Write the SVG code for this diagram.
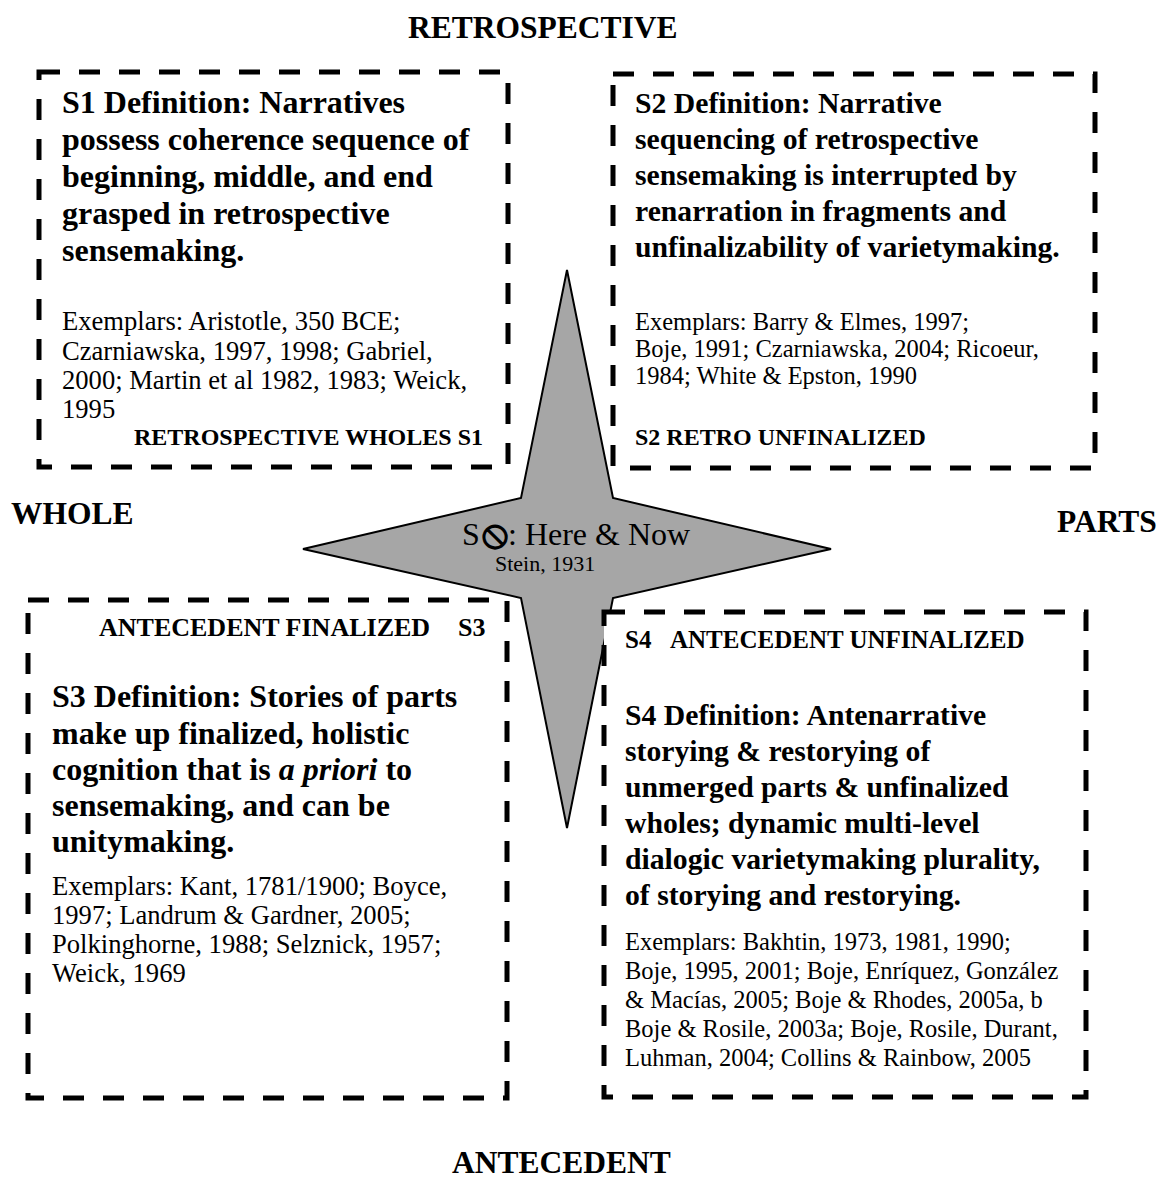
<svg xmlns="http://www.w3.org/2000/svg" width="1161" height="1192" viewBox="0 0 1161 1192">
<style>
text{font-family:"Liberation Serif","Times New Roman",serif;fill:#000}
.axis{font-weight:bold;font-size:31.5px}
.box{fill:#fff;stroke:#000;stroke-width:5;stroke-dasharray:21 19}
.b{font-weight:bold}
.def32{font-weight:bold;font-size:32px}
.def30{font-weight:bold;font-size:29.7px}
.ex26{font-size:26.6px}
.ex24{font-size:24.5px}
</style>
<rect width="1161" height="1192" fill="#fff"/>
<g id="axes">
<text class="axis" x="11" y="524">WHOLE</text>
<text class="axis" x="408" y="38">RETROSPECTIVE</text>
<text class="axis" x="1057" y="532">PARTS</text>
<text class="axis" x="452" y="1173">ANTECEDENT</text>
</g>
<g id="star">
<polygon points="567,270 613,498 831,549 613,598 567,828 521,598 303,549 521,498" fill="#a6a6a6" stroke="#000" stroke-width="2"/>
<text x="462" y="545" font-size="32">S</text>
<text x="495" y="547" font-size="40" font-family="DejaVu Sans" font-weight="bold" text-anchor="middle">⦸</text>
<text x="508" y="545" font-size="32">: Here &amp; Now</text>
<text x="495" y="571" font-size="22">Stein, 1931</text>
</g>
<g id="s1">
<rect class="box" x="39" y="72" width="469" height="395"/>
<text class="def32" x="62"><tspan x="62" y="113">S1 Definition: Narratives</tspan><tspan x="62" y="150">possess coherence sequence of</tspan><tspan x="62" y="187">beginning, middle, and end</tspan><tspan x="62" y="224">grasped in retrospective</tspan><tspan x="62" y="261">sensemaking.</tspan></text>
<text class="ex26"><tspan x="62" y="330">Exemplars: Aristotle, 350 BCE;</tspan><tspan x="62" y="360">Czarniawska, 1997, 1998; Gabriel,</tspan><tspan x="62" y="389">2000; Martin et al 1982, 1983; Weick,</tspan><tspan x="62" y="418">1995</tspan></text>
<text class="b" font-size="24" x="483" y="445" text-anchor="end">RETROSPECTIVE WHOLES S1</text>
</g>
<g id="s2">
<rect class="box" x="613" y="74" width="482" height="394"/>
<text class="def30"><tspan x="635" y="113">S2 Definition: Narrative</tspan><tspan x="635" y="149">sequencing of retrospective</tspan><tspan x="635" y="185">sensemaking is interrupted by</tspan><tspan x="635" y="221">renarration in fragments and</tspan><tspan x="635" y="257">unfinalizability of varietymaking.</tspan></text>
<text class="ex24"><tspan x="635" y="330">Exemplars: Barry &amp; Elmes, 1997;</tspan><tspan x="635" y="357">Boje, 1991; Czarniawska, 2004; Ricoeur,</tspan><tspan x="635" y="384">1984; White &amp; Epston, 1990</tspan></text>
<text class="b" font-size="24" x="635" y="445">S2 RETRO UNFINALIZED</text>
</g>
<g id="s3">
<rect class="box" x="28" y="600" width="479" height="498"/>
<text class="b" font-size="26" y="636"><tspan x="99">ANTECEDENT FINALIZED</tspan><tspan x="458">S3</tspan></text>
<text class="def32"><tspan x="52" y="707">S3 Definition: Stories of parts</tspan><tspan x="52" y="744">make up finalized, holistic</tspan><tspan x="52" y="780">cognition that is <tspan font-style="italic">a priori</tspan> to</tspan><tspan x="52" y="816">sensemaking, and can be</tspan><tspan x="52" y="852">unitymaking.</tspan></text>
<text class="ex26"><tspan x="52" y="895">Exemplars:  Kant, 1781/1900; Boyce,</tspan><tspan x="52" y="924">1997; Landrum &amp; Gardner, 2005;</tspan><tspan x="52" y="953">Polkinghorne, 1988; Selznick, 1957;</tspan><tspan x="52" y="982">Weick, 1969</tspan></text>
</g>
<g id="s4">
<rect class="box" x="604" y="612" width="482" height="485"/>
<text class="b" font-size="25" y="648"><tspan x="625">S4</tspan><tspan x="670">ANTECEDENT UNFINALIZED</tspan></text>
<text class="def30"><tspan x="625" y="725">S4 Definition: Antenarrative</tspan><tspan x="625" y="761">storying &amp; restorying of</tspan><tspan x="625" y="797">unmerged parts &amp; unfinalized</tspan><tspan x="625" y="833">wholes; dynamic multi-level</tspan><tspan x="625" y="869">dialogic varietymaking plurality,</tspan><tspan x="625" y="905">of storying and restorying.</tspan></text>
<text class="ex24"><tspan x="625" y="950">Exemplars: Bakhtin, 1973, 1981, 1990;</tspan><tspan x="625" y="979">Boje, 1995, 2001; Boje, Enríquez, González</tspan><tspan x="625" y="1008">&amp; Macías, 2005; Boje &amp; Rhodes, 2005a, b</tspan><tspan x="625" y="1037">Boje &amp; Rosile, 2003a; Boje, Rosile, Durant,</tspan><tspan x="625" y="1066">Luhman, 2004; Collins &amp; Rainbow, 2005</tspan></text>
</g>
<g id="connectors"></g>
</svg>
